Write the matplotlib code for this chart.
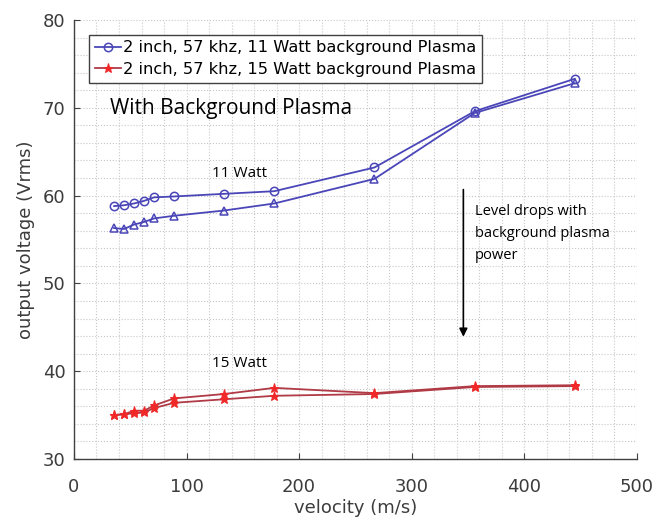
import numpy as np
import matplotlib.pyplot as plt
from matplotlib.ticker import MultipleLocator

# velocities (m/s)
velocity = [35.6, 44.5, 53.4, 62.3, 71.2, 89.0, 133.5, 178.0, 267.0, 356.0, 445.0]

# 11 Watt background plasma, two runs
v11_run1 = [58.8, 58.9, 59.1, 59.4, 59.8, 59.9, 60.2, 60.5, 63.2, 69.6, 73.3]
v11_run2 = [56.3, 56.2, 56.7, 57.0, 57.4, 57.7, 58.3, 59.1, 61.9, 69.4, 72.8]

# 15 Watt background plasma, two runs
v15_run1 = [35.0, 35.1, 35.5, 35.5, 36.1, 36.9, 37.4, 38.1, 37.5, 38.3, 38.4]
v15_run2 = [35.0, 35.1, 35.2, 35.3, 35.8, 36.4, 36.8, 37.2, 37.4, 38.2, 38.3]

legend_labels = ['2 inch, 57 khz, 11 Watt background Plasma',
                 '2 inch, 57 khz, 15 Watt background Plasma']

blue = '#4a46b8'
red_line = '#b03a46'
red_mk = '#f02828'

fig = plt.figure(figsize=(6.53, 5.23), dpi=100)
ax = fig.add_axes([0.1133, 0.1224, 0.8617, 0.8394])

l1, = ax.plot(velocity, v11_run1, '-o', color=blue, lw=1.3, ms=6,
              mfc='none', mew=1.1)
ax.plot(velocity, v11_run2, '-^', color=blue, lw=1.3, ms=6,
        mfc='none', mew=1.1)
l2, = ax.plot(velocity, v15_run1, '-*', color=red_line, lw=1.3, ms=6.5,
              mfc=red_mk, mec=red_mk, mew=0.8)
ax.plot(velocity, v15_run2, '-*', color=red_line, lw=1.3, ms=6.5,
        mfc=red_mk, mec=red_mk, mew=0.8)

ax.set_xlim(0, 500)
ax.set_ylim(30, 80)
ax.xaxis.set_major_locator(MultipleLocator(100))
ax.xaxis.set_minor_locator(MultipleLocator(20))
ax.yaxis.set_major_locator(MultipleLocator(10))
ax.yaxis.set_minor_locator(MultipleLocator(2))
ax.grid(True, which='both', color='#c8c8c8', ls=':', lw=0.8)
ax.set_axisbelow(True)

for s in ['top', 'right']:
    ax.spines[s].set_visible(False)
for s in ['left', 'bottom']:
    ax.spines[s].set_color('#404040')
    ax.spines[s].set_linewidth(1.0)
ax.tick_params(which='major', direction='in', length=4, labelsize=13,
               labelcolor='#3c3c3c', color='#404040', pad=6)
ax.tick_params(axis='x', which='major', pad=14)
ax.tick_params(which='minor', length=0)

ax.set_xlabel('velocity (m/s)', fontsize=13, color='#3c3c3c', labelpad=2)
ax.set_ylabel('output voltage (Vrms)', fontsize=13, color='#3c3c3c', labelpad=6)

leg = ax.legend([l1, l2], legend_labels, loc='upper left',
                bbox_to_anchor=(0.012, 0.985), fontsize=11.7, fancybox=False,
                framealpha=1, edgecolor='#404040', handlelength=1.6,
                handletextpad=0.15, borderpad=0.35, labelspacing=0.4)
leg.get_frame().set_linewidth(1.0)

ax.text(32, 69.9, 'With Background Plasma', fontsize=15, family='Open Sans',
        va='center', ha='left')
ax.text(147, 62.5, '11 Watt', fontsize=11, family='Open Sans',
        va='center', ha='center')
ax.text(147, 40.9, '15 Watt', fontsize=11, family='Open Sans',
        va='center', ha='center')
ax.annotate('', xy=(346, 43.6), xytext=(346, 61.0),
            arrowprops=dict(arrowstyle='-|>', color='black', lw=1.2,
                            mutation_scale=12))
ax.text(356, 59.0, 'Level drops with\nbackground plasma\npower', fontsize=10.5,
        family='Open Sans', va='top', ha='left', linespacing=1.6)

fig.savefig('out.png', dpi=100)
